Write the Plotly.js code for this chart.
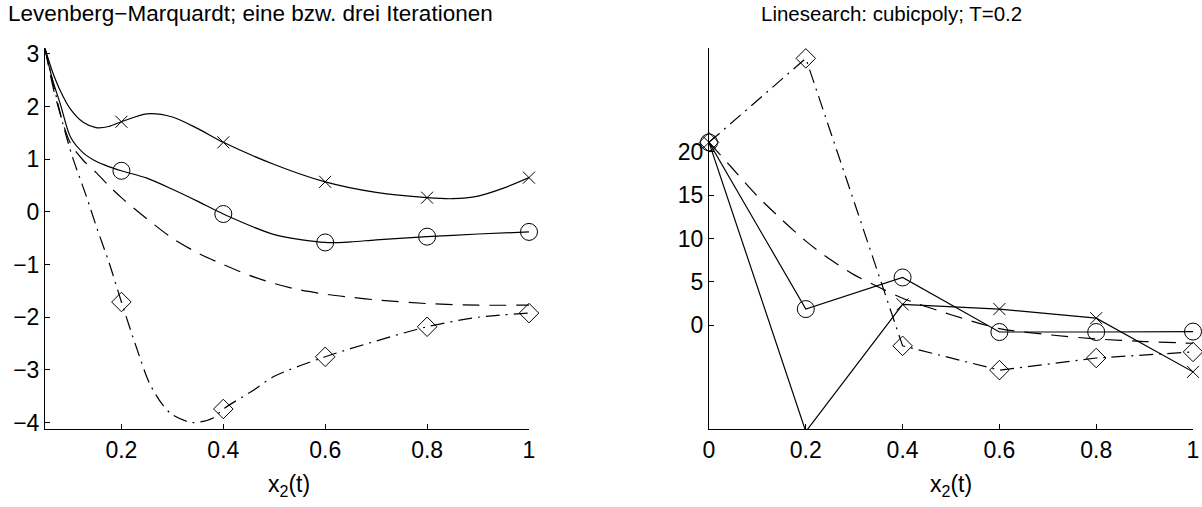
<!DOCTYPE html>
<html>
<head>
<meta charset="utf-8">
<script src="https://cdn.plot.ly/plotly-3.0.1.min.js"></script>
<style>
  html, body { margin: 0; padding: 0; background: #fff; }
  #chart { width: 1202px; height: 507px; }
</style>
</head>
<body>
<div id="chart"></div>
<script>
// ---- Left panel: Levenberg-Marquardt, smooth trajectories ----
const lmUpperT = [0.05, 0.065, 0.08, 0.1, 0.125, 0.15, 0.175, 0.2, 0.25, 0.3, 0.35, 0.4, 0.5, 0.6, 0.7, 0.8, 0.85, 0.9, 0.95, 1.0];
const lmUpperY = [3.1, 2.65, 2.3, 1.95, 1.7, 1.6, 1.62, 1.71, 1.86, 1.8, 1.58, 1.32, 0.9, 0.57, 0.37, 0.27, 0.25, 0.3, 0.45, 0.65];

const lmCircT = [0.05, 0.065, 0.08, 0.1, 0.125, 0.15, 0.175, 0.2, 0.25, 0.3, 0.35, 0.4, 0.5, 0.6, 0.65, 0.7, 0.8, 0.9, 1.0];
const lmCircY = [3.1, 2.5, 2.05, 1.42, 1.12, 0.96, 0.86, 0.78, 0.64, 0.43, 0.2, -0.04, -0.43, -0.58, -0.57, -0.53, -0.47, -0.42, -0.38];

const lmDashT = [0.05, 0.07, 0.1, 0.125, 0.15, 0.175, 0.2, 0.25, 0.3, 0.35, 0.4, 0.45, 0.5, 0.55, 0.6, 0.65, 0.7, 0.8, 0.9, 1.0];
const lmDashY = [3.1, 2.2, 1.3, 0.98, 0.75, 0.5, 0.27, -0.13, -0.5, -0.78, -1.0, -1.2, -1.36, -1.48, -1.56, -1.62, -1.67, -1.74, -1.77, -1.77];

const lmDiamT = [0.05, 0.067, 0.084, 0.104, 0.131, 0.153, 0.176, 0.2, 0.229, 0.255, 0.28, 0.3, 0.34, 0.38, 0.4, 0.46, 0.5, 0.6, 0.7, 0.8, 0.9, 1.0];
const lmDiamY = [3.1, 2.4, 1.71, 1.04, 0.3, -0.34, -0.97, -1.71, -2.56, -3.25, -3.65, -3.85, -4.0, -3.91, -3.74, -3.38, -3.12, -2.75, -2.45, -2.18, -2.0, -1.92];

// marker samples on the grid
const lmGrid = [0.2, 0.4, 0.6, 0.8, 1.0];
const lmUpperMk = [1.71, 1.32, 0.57, 0.27, 0.65];
const lmCircMk = [0.78, -0.04, -0.58, -0.47, -0.38];
const lmDiamMk = [-1.71, -3.74, -2.75, -2.18, -1.92];

const lmYTicks = [-4, -3, -2, -1, 0, 1, 2, 3];
const lmXTicks = [0.2, 0.4, 0.6, 0.8, 1];
const lmXTickText = ['0.2', '0.4', '0.6', '0.8', '1'];

// ---- Right panel: line search (cubicpoly, T=0.2) ----
const lsGrid = [0, 0.2, 0.4, 0.6, 0.8, 1.0];
const lsCross = [21.1, -12.3, 2.4, 1.85, 0.8, -5.4];
const lsCirc = [21.1, 1.85, 5.5, -0.8, -0.8, -0.75];
const lsDiam = [21.1, 30.8, -2.4, -5.2, -3.8, -3.1];

const lsDashT = [0, 0.05, 0.1, 0.15, 0.2, 0.25, 0.3, 0.35, 0.4, 0.5, 0.6, 0.7, 0.8, 0.9, 1.0];
const lsDashY = [21.1, 18.0, 14.9, 12.2, 9.7, 7.6, 5.8, 4.4, 3.1, 1.2, -0.4, -1.1, -1.6, -1.9, -2.1];

const lsYTicks = [0, 5, 10, 15, 20];
const lsXTicks = [0, 0.2, 0.4, 0.6, 0.8, 1];
const lsXTickText = ['0', '0.2', '0.4', '0.6', '0.8', '1'];

const FONT = 'Liberation Sans, Arial, Helvetica, sans-serif';
const BLACK = '#000';
const LW = 1.2;
const DASH = '17px,10px';
const DASHDOT = '14px,6px,2px,6px';

// marker sizes
const SZ_X = 12, SZ_O = 17, SZ_D = 15;

function curve(x, y, dash, xa, ya) {
  return { x, y, xaxis: xa, yaxis: ya, mode: 'lines', hoverinfo: 'skip',
    line: { color: BLACK, width: LW, dash: dash, shape: 'spline', smoothing: 0.8 },
    showlegend: false };
}
function marks(x, y, symbol, size, xa, ya) {
  return { x, y, xaxis: xa, yaxis: ya, mode: 'markers', hoverinfo: 'skip', cliponaxis: false,
    marker: { symbol: symbol, size: size, color: BLACK, line: { color: BLACK, width: 1 } },
    showlegend: false };
}
function lineMarks(x, y, symbol, size, dash, xa, ya) {
  return { x, y, xaxis: xa, yaxis: ya, mode: 'lines+markers', hoverinfo: 'skip', cliponaxis: false,
    line: { color: BLACK, width: LW, dash: dash },
    marker: { symbol: symbol, size: size, color: BLACK, line: { color: BLACK, width: 1 } },
    showlegend: false };
}

const traces = [
  curve(lmUpperT, lmUpperY, 'solid', 'x', 'y'),
  curve(lmCircT, lmCircY, 'solid', 'x', 'y'),
  curve(lmDashT, lmDashY, DASH, 'x', 'y'),
  curve(lmDiamT, lmDiamY, DASHDOT, 'x', 'y'),
  marks(lmGrid, lmUpperMk, 'x-thin-open', SZ_X, 'x', 'y'),
  marks(lmGrid, lmCircMk, 'circle-open', SZ_O, 'x', 'y'),
  marks(lmGrid, lmDiamMk, 'diamond-open', SZ_D, 'x', 'y'),

  curve(lsDashT, lsDashY, DASH, 'x2', 'y2'),
  lineMarks(lsGrid, lsCross, 'x-thin-open', SZ_X, 'solid', 'x2', 'y2'),
  lineMarks(lsGrid, lsCirc, 'circle-open', SZ_O, 'solid', 'x2', 'y2'),
  lineMarks(lsGrid, lsDiam, 'diamond-open', SZ_D, DASHDOT, 'x2', 'y2')
];

const W = 1202, H = 507;
const yDom = [1 - 429 / H, 1 - 48 / H];

const axisBase = {
  showline: true, linecolor: BLACK, linewidth: 1,
  ticks: 'inside', ticklen: 5, tickwidth: 1, tickcolor: BLACK,
  showgrid: false, zeroline: false, mirror: false,
  tickfont: { family: FONT, size: 23, color: BLACK },
  fixedrange: true
};

const layout = {
  width: W, height: H,
  margin: { l: 0, r: 0, t: 0, b: 0 },
  paper_bgcolor: '#fff', plot_bgcolor: '#fff',
  font: { family: FONT, color: BLACK },
  xaxis: Object.assign({}, axisBase, { domain: [45 / W, 529 / W], range: [0.05, 1.0],
    tickmode: 'array', tickvals: lmXTicks, ticktext: lmXTickText, anchor: 'y' }),
  yaxis: Object.assign({}, axisBase, { domain: yDom, range: [-4.12, 3.11],
    tickmode: 'array', tickvals: lmYTicks, ticktext: lmYTicks.map(v => v < 0 ? '\u2212' + (-v) : String(v)), anchor: 'x' }),
  xaxis2: Object.assign({}, axisBase, { domain: [709 / W, 1193 / W], range: [0, 1],
    tickmode: 'array', tickvals: lsXTicks, ticktext: lsXTickText, anchor: 'y2' }),
  yaxis2: Object.assign({}, axisBase, { domain: yDom, range: [-12, 32],
    tickmode: 'array', tickvals: lsYTicks, ticktext: lsYTicks.map(String), anchor: 'x2' }),
  annotations: [
    { text: 'Levenberg\u2212Marquardt; eine bzw. drei Iterationen', xref: 'paper', yref: 'paper',
      x: 250 / W, y: 1 - 13 / H, xanchor: 'center', yanchor: 'middle', showarrow: false,
      font: { family: FONT, size: 22.5, color: BLACK } },
    { text: 'Linesearch: cubicpoly; T=0.2', xref: 'paper', yref: 'paper',
      x: 891 / W, y: 1 - 13 / H, xanchor: 'center', yanchor: 'middle', showarrow: false,
      font: { family: FONT, size: 20.5, color: BLACK } },
    { text: 'x<sub>2</sub>(t)', xref: 'paper', yref: 'paper',
      x: 289 / W, y: 1 - 485 / H, xanchor: 'center', yanchor: 'middle', showarrow: false,
      font: { family: FONT, size: 23, color: BLACK } },
    { text: 'x<sub>2</sub>(t)', xref: 'paper', yref: 'paper',
      x: 951 / W, y: 1 - 485 / H, xanchor: 'center', yanchor: 'middle', showarrow: false,
      font: { family: FONT, size: 23, color: BLACK } }
  ]
};

Plotly.newPlot('chart', traces, layout, { staticPlot: true, displayModeBar: false });
</script>
</body>
</html>
